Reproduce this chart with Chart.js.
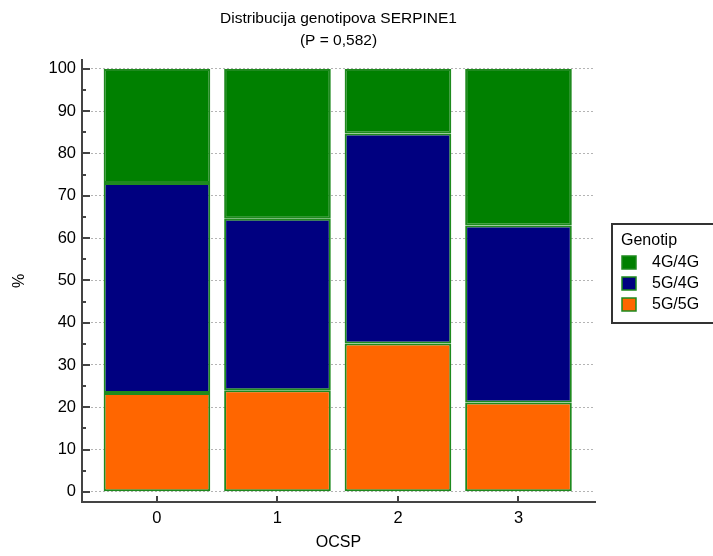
<!DOCTYPE html>
<html lang="hr">
  <head>
    <meta charset="UTF-8" />
    <title>Distribucija genotipova SERPINE1</title>
    <script src="https://cdn.jsdelivr.net/npm/chart.js"></script>
    <style>
      body {
        margin: 0;
        padding: 0;
        background: #fff;
        overflow: hidden;
      }
    </style>
  </head>
  <body>
    <canvas id="genotipChart" width="713" height="556"></canvas>

    <script>
      // OCSP groups on the x axis
      const categories = ["0", "1", "2", "3"];
      // percentage of each genotype per group (stacked to 100)
      const share5G5G = [23.4, 24.0, 35.1, 21.1];
      const share5G4G = [49.6, 40.6, 49.6, 41.9];
      const share4G4G = [27.0, 35.4, 15.3, 37.0];
      const yTicks = [0, 10, 20, 30, 40, 50, 60, 70, 80, 90, 100];

      const FONT = '"Liberation Sans", Arial, sans-serif';
      const AXIS = "#444";

      function toPoints(values) {
        return values.map((v, i) => ({ x: i, y: v }));
      }

      // inward tick marks like the original plot
      const innerTicks = {
        id: "innerTicks",
        afterDraw(chart) {
          const { ctx, chartArea, scales } = chart;
          ctx.save();
          ctx.strokeStyle = AXIS;
          ctx.lineWidth = 2;
          ctx.beginPath();
          for (let v = 0; v <= 100; v += 5) {
            const py = Math.round(scales.y.getPixelForValue(v));
            const len = v % 10 === 0 ? 8 : 4;
            ctx.moveTo(chartArea.left, py);
            ctx.lineTo(chartArea.left + len, py);
          }
          categories.forEach((c, i) => {
            const px = Math.round(scales.x.getPixelForValue(i));
            ctx.moveTo(px, chartArea.bottom);
            ctx.lineTo(px, chartArea.bottom - 6);
          });
          ctx.stroke();
          ctx.restore();
        },
      };

      // boxed legend with a title, to the right of the plot
      const boxLegend = {
        id: "boxLegend",
        afterDraw(chart) {
          const { ctx, chartArea } = chart;
          const left = chartArea.right + 17;
          const top = 224;
          ctx.save();
          ctx.strokeStyle = "#333";
          ctx.lineWidth = 2;
          ctx.strokeRect(left, top, 110, 99);
          ctx.fillStyle = "#000";
          ctx.font = "16px " + FONT;
          ctx.textBaseline = "middle";
          ctx.fillText("Genotip", left + 9, top + 17);
          const items = chart.data.datasets.slice().reverse();
          items.forEach((ds, i) => {
            const cy = top + 39 + i * 21;
            ctx.fillStyle = ds.backgroundColor;
            ctx.fillRect(left + 10, cy - 7, 14, 13);
            ctx.strokeStyle = ds.borderColor;
            ctx.lineWidth = 1.5;
            ctx.strokeRect(left + 10, cy - 7, 14, 13);
            ctx.fillStyle = "#000";
            ctx.fillText(ds.label, left + 40, cy);
          });
          ctx.restore();
        },
      };

      const ctx = document.getElementById("genotipChart").getContext("2d");

      new Chart(ctx, {
        type: "bar",
        data: {
          datasets: [
            { label: "5G/5G", data: toPoints(share5G5G), backgroundColor: "#ff6600" },
            { label: "5G/4G", data: toPoints(share5G4G), backgroundColor: "#000080" },
            { label: "4G/4G", data: toPoints(share4G4G), backgroundColor: "#008000" },
          ].map((d) => ({
            ...d,
            borderColor: "#1e8a1e",
            borderWidth: 2,
            borderSkipped: false,
            barPercentage: 0.885,
            categoryPercentage: 1,
          })),
        },
        options: {
          responsive: false,
          animation: false,
          devicePixelRatio: 1,
          layout: { padding: { left: 0, right: 118, top: 0, bottom: 0 } },
          plugins: {
            legend: { display: false },
            tooltip: { enabled: false },
            title: {
              display: true,
              fullSize: false,
              text: ["Distribucija genotipova SERPINE1", "(P = 0,582)"],
              color: "#000",
              font: { family: FONT, size: 15.5, weight: "normal", lineHeight: 1.42 },
              padding: { top: 8, bottom: 8 },
            },
          },
          scales: {
            x: {
              type: "linear",
              stacked: true,
              offset: false,
              min: -0.622,
              max: 3.635,
              afterBuildTicks: (s) => {
                s.ticks = categories.map((c, i) => ({ value: i }));
              },
              afterFit: (s) => {
                s.height = 54;
              },
              ticks: {
                callback: (v) => categories[v],
                color: "#000",
                font: { family: FONT, size: 16.5 },
                padding: 7,
                maxRotation: 0,
              },
              grid: { display: false, drawTicks: false, offset: false },
              border: { display: true, color: AXIS, width: 2 },
              title: {
                display: true,
                text: "OCSP",
                color: "#000",
                font: { family: FONT, size: 16 },
                padding: { top: 0, bottom: 4 },
              },
            },
            y: {
              stacked: true,
              min: -2.4,
              max: 102.1,
              afterBuildTicks: (s) => {
                s.ticks = yTicks.map((v) => ({ value: v }));
              },
              afterFit: (s) => {
                s.width = 82;
              },
              ticks: {
                color: "#000",
                font: { family: FONT, size: 16.5 },
                padding: 6,
              },
              grid: { color: "#b4b4b4", lineWidth: 1, drawTicks: false },
              border: { display: true, color: AXIS, width: 2, dash: [2, 2] },
              title: {
                display: true,
                text: "%",
                color: "#000",
                font: { family: FONT, size: 16 },
                padding: { top: 10, bottom: 0 },
              },
            },
          },
        },
        plugins: [innerTicks, boxLegend],
      });
    </script>
  </body>
</html>
